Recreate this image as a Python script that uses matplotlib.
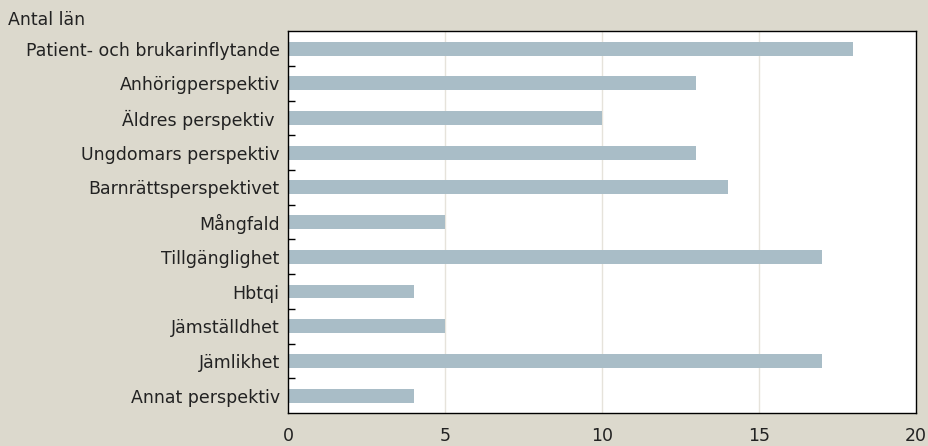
import matplotlib
matplotlib.use('Agg')
import matplotlib.pyplot as plt
import numpy as np

categories = [
    'Patient- och brukarinflytande', 'Anhörigperspektiv', 'Äldres perspektiv ',
    'Ungdomars perspektiv', 'Barnrättsperspektivet', 'Mångfald', 'Tillgänglighet',
    'Hbtqi', 'Jämställdhet', 'Jämlikhet', 'Annat perspektiv',
]
counts = [18, 13, 10, 13, 14, 5, 17, 4, 5, 17, 4]
xticks = [0, 5, 10, 15, 20]

BG = '#dcd9cd'
BAR = '#a9bdc7'
TXT = '#222222'

plt.rcParams['font.family'] = ['DejaVu Sans']

fig = plt.figure(figsize=(9.29, 4.46), dpi=100, facecolor=BG)
ax = fig.add_axes([0.310, 0.074, 0.676, 0.856])
ax.set_facecolor('white')

y = np.arange(len(categories))
ax.barh(y, counts, height=0.4, color=BAR, zorder=2)
ax.set_ylim(len(categories) - 0.5, -0.5)
ax.set_xlim(0, 20)

ax.set_xticks(xticks)
ax.set_xticklabels([str(t) for t in xticks], fontsize=12.5, color=TXT)
ax.tick_params(axis='x', length=0, pad=10)
for t in xticks[1:-1]:
    ax.axvline(t, color='#e6e3db', linewidth=1, zorder=1)

# category labels, with ticks on the boundaries between them
ax.set_yticks(y)
ax.set_yticklabels(categories, fontsize=12.5, color=TXT)
ax.tick_params(axis='y', which='major', length=0, pad=6)
ax.set_yticks(np.arange(len(categories) - 1) + 0.5, minor=True)
ax.tick_params(axis='y', which='minor', direction='in', length=5, width=1, color='black')

for s in ax.spines.values():
    s.set_color('black')
    s.set_linewidth(1)

fig.text(8 / 929, 1 - 20 / 446, 'Antal län', fontsize=12.5, color=TXT,
         ha='left', va='center')

fig.savefig('out.png', dpi=100, facecolor=BG)
